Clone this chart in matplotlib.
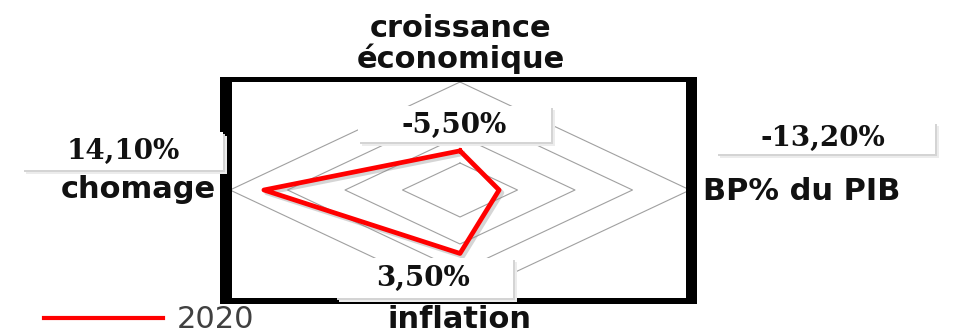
import numpy as np
import matplotlib
matplotlib.use("Agg")
import matplotlib.pyplot as plt
from matplotlib.patches import Rectangle
from matplotlib.lines import Line2D
import matplotlib.patheffects as pe

# ---- data ----
categories = ["croissance\néconomique", "BP% du PIB", "inflation", "chomage"]
values_2020 = [-5.5, -13.2, 3.5, 14.1]
series_name = "2020"
r_min, r_max = -20, 20
grid_levels = [-10, 0, 10, 20]

W, H = 961, 333
fig = plt.figure(figsize=(W / 100, H / 100), dpi=100)


def fx(px):
    return px / W


def fy(py):
    return 1 - py / H


# radar area (center ~ (460,190) px)
ax = fig.add_axes([fx(230), fy(298), fx(460), 216 / H])
ax.set_xlim(-1, 1)
ax.set_ylim(-1, 1)
ax.axis("off")

n = len(categories)
theta = np.arange(n) * 2 * np.pi / n


def to_xy(vals):
    r = (np.asarray(vals, dtype=float) - r_min) / (r_max - r_min)
    x = r * np.sin(theta)
    y = r * np.cos(theta)
    return np.append(x, x[0]), np.append(y, y[0])


for lev in grid_levels:
    gx, gy = to_xy([lev] * n)
    ax.plot(gx, gy, color="#a0a0a0", lw=0.8, clip_on=False, zorder=1)

sx, sy = to_xy(values_2020)
line, = ax.plot(sx, sy, color="#ff0000", lw=3.4, solid_joinstyle="round",
                clip_on=False, zorder=3,
                path_effects=[pe.SimpleLineShadow(offset=(2, -2), shadow_color="#888888", alpha=0.35),
                              pe.Normal()])

# ---- black frame ----
frame_parts = [(220, 77, 12, 227), (686, 77, 11, 227), (220, 77, 477, 5), (220, 298, 477, 6)]
for (x0, y0, w, h) in frame_parts:
    fig.add_artist(Rectangle((fx(x0), fy(y0 + h)), w / W, h / H, transform=fig.transFigure,
                             facecolor="black", edgecolor="none", zorder=4))

# ---- category labels ----
cat_font = dict(fontsize=22, fontweight="bold", color="#111111", family="DejaVu Sans")
fig.text(fx(461), fy(44), categories[0], ha="center", va="center", linespacing=1.0, **cat_font)
fig.text(fx(703), fy(192), categories[1], ha="left", va="center", **cat_font)
fig.text(fx(460), fy(319), categories[2], ha="center", va="center", **cat_font)
fig.text(fx(216), fy(190), categories[3], ha="right", va="center", **cat_font)

# ---- data labels in boxes ----
label_boxes = [(358, 106, 193, 36), (716, 122, 219, 32), (335, 258, 178, 40), (22, 132, 201, 38)]
label_text_pos = [(454, 125), (823, 138), (423, 278), (123, 151)]
for v, (bx, by, bw, bh), (tx, ty) in zip(values_2020, label_boxes, label_text_pos):
    for off, col in [(4, "#ececec"), (2, "#d4d4d4")]:
        fig.add_artist(Rectangle((fx(bx + off), fy(by + bh + off)), bw / W, bh / H,
                                 transform=fig.transFigure, facecolor=col, edgecolor="none", zorder=5))
    fig.add_artist(Rectangle((fx(bx), fy(by + bh)), bw / W, bh / H, transform=fig.transFigure,
                             facecolor="white", edgecolor="none", zorder=6))
    txt = f"{v:.2f}%".replace(".", ",")
    fig.text(fx(tx), fy(ty), txt, ha="center", va="center", fontsize=20, fontweight="bold",
             family="DejaVu Serif", color="#111111", zorder=7)

# ---- legend ----
legend_handle = Line2D([], [], color="#ff0000", lw=3.0)
fig.legend(handles=[legend_handle], labels=[series_name], loc="center left",
           bbox_to_anchor=(fx(44), fy(320)), frameon=False, fontsize=22,
           handlelength=3.9, handletextpad=0.45, labelcolor="#404040", borderaxespad=0,
           borderpad=0)

fig.savefig("out.png", dpi=100)
